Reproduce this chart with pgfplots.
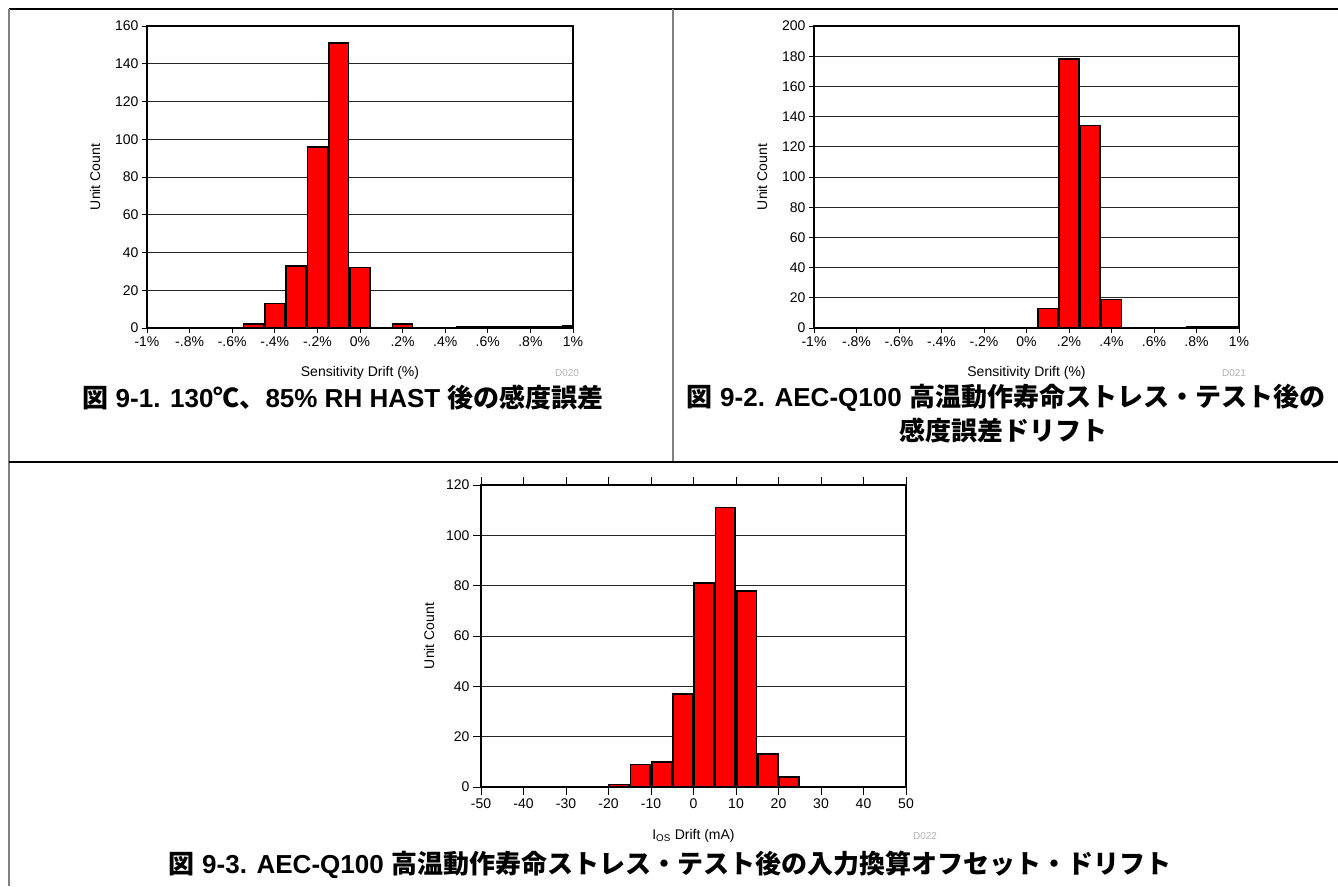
\documentclass[border=0pt]{standalone}
\usepackage{pgfplots}
\pgfplotsset{compat=1.18}
\usepackage{fontspec}
\setmainfont{Liberation Sans}
\newfontfamily\cjk{Noto Sans CJK JP}

\tikzset{box/.style={line width=2.4pt}}
\pgfplotsset{
  hist/.style={
    scale only axis, width=425pt, height=302pt,
    anchor=south west,
    ymin=0,
    ybar, bar shift=0pt,
    clip mode=individual,
    ymajorgrids,
    major grid style={black!85, line width=1pt},
    axis line style={black, line width=2pt},
    tick align=outside,
    xtick pos=bottom, ytick pos=left,
    major tick length=5pt,
    tick style={black, line width=0.9pt},
    /pgf/number format/assume math mode=true,
    ticklabel style={font=\fontsize{14}{16}\selectfont},
    every axis y label/.style={at={(rel axis cs:0,0.5)}, xshift=-52pt, rotate=90, anchor=center, font=\fontsize{14}{16}\selectfont},
    every axis x label/.style={at={(rel axis cs:0.5,0)}, yshift=-45pt, anchor=center, font=\fontsize{14}{16}\selectfont},
  },
  bars/.style={fill=red, draw=black, line width=1.6pt},
  pct/.style={
    xmin=-1, xmax=1, bar width=0.093,
    xtick={-1,-0.8,-0.6,-0.4,-0.2,0,0.2,0.4,0.6,0.8,1},
    xticklabels={-1\%,-.8\%,-.6\%,-.4\%,-.2\%,0\%,.2\%,.4\%,.6\%,.8\%,1\%},
    xlabel={Sensitivity Drift (\%)}, ylabel={Unit Count},
  },
}

\begin{document}
\begin{tikzpicture}[x=1pt,y=1pt]
\useasboundingbox (0,0) rectangle (1338,-886);
% frame lines
\draw[black, line width=1.3pt] (9,-9) -- (1338,-9);
\draw[black!50, line width=1.3pt] (9,-9) -- (9,-886);
\draw[black!50, line width=1.3pt] (673,-9) -- (673,-462);
\draw[black, line width=1.3pt] (9,-462) -- (1338,-462);

% chart 1
\begin{axis}[hist, pct, at={(147pt,-328pt)}, width=426pt,
  ymax=160, ytick={0,20,...,160}]
  \addplot[bars] coordinates {(-0.5,2) (-0.4,13) (-0.3,33) (-0.2,96) (-0.1,151) (0,32)
    (0.2,2) (0.3,0.2) (0.4,0.3) (0.5,0.4) (0.6,0.5) (0.7,0.6) (0.8,0.7) (0.9,0.8) (1.0,1)};
  \draw[box] (rel axis cs:0,0) rectangle (rel axis cs:1,1);
\end{axis}
\node[text=black!30, font=\fontsize{10}{12}\selectfont] at (567,-373) {D020};

% chart 2
\begin{axis}[hist, pct, at={(814pt,-328pt)},
  ymax=200, ytick={0,20,...,200}]
  \addplot[bars] coordinates {(0.1,13) (0.2,178) (0.3,134) (0.4,19)
    (0.5,0.2) (0.6,0.3) (0.7,0.4) (0.8,0.5) (0.9,0.6) (1.0,0.8)};
  \draw[box] (rel axis cs:0,0) rectangle (rel axis cs:1,1);
\end{axis}
\node[text=black!30, font=\fontsize{10}{12}\selectfont] at (1234,-373) {D021};

% chart 3
\begin{axis}[hist, at={(481pt,-787pt)},
  xmin=-50, xmax=50, bar width=4.65,
  xtick={-50,-40,...,50}, xtick pos=both, major tick length=8pt,
  every axis x label/.append style={yshift=-4pt},
  ymax=120, ytick={0,20,...,120},
  xlabel={I\textsubscript{OS} Drift (mA)}, ylabel={Unit Count}]
  \addplot[bars] coordinates {(-17.5,1) (-12.5,9) (-7.5,10) (-2.5,37) (2.5,81)
    (7.5,111) (12.5,78) (17.5,13) (22.5,4)};
  \draw[box] (rel axis cs:0,0) rectangle (rel axis cs:1,1);
\end{axis}
\node[text=black!30, font=\fontsize{10}{12}\selectfont] at (925,-836) {D022};

% captions
\begin{scope}[every node/.style={font=\fontsize{26}{30}\selectfont\bfseries}]
\node at (343,-398) {{\cjk 図} 9-1. 130{\cjk ℃、}85\% RH HAST {\cjk 後の感度誤差}};
\node at (1006,-398) {{\cjk 図} 9-2. AEC-Q100 {\cjk 高温動作寿命ストレス・テスト後の}};
\node at (1003,-431) {\cjk 感度誤差ドリフト};
\node at (670,-865) {{\cjk 図} 9-3. AEC-Q100 {\cjk 高温動作寿命ストレス・テスト後の入力換算オフセット・ドリフト}};
\end{scope}
\end{tikzpicture}
\end{document}
